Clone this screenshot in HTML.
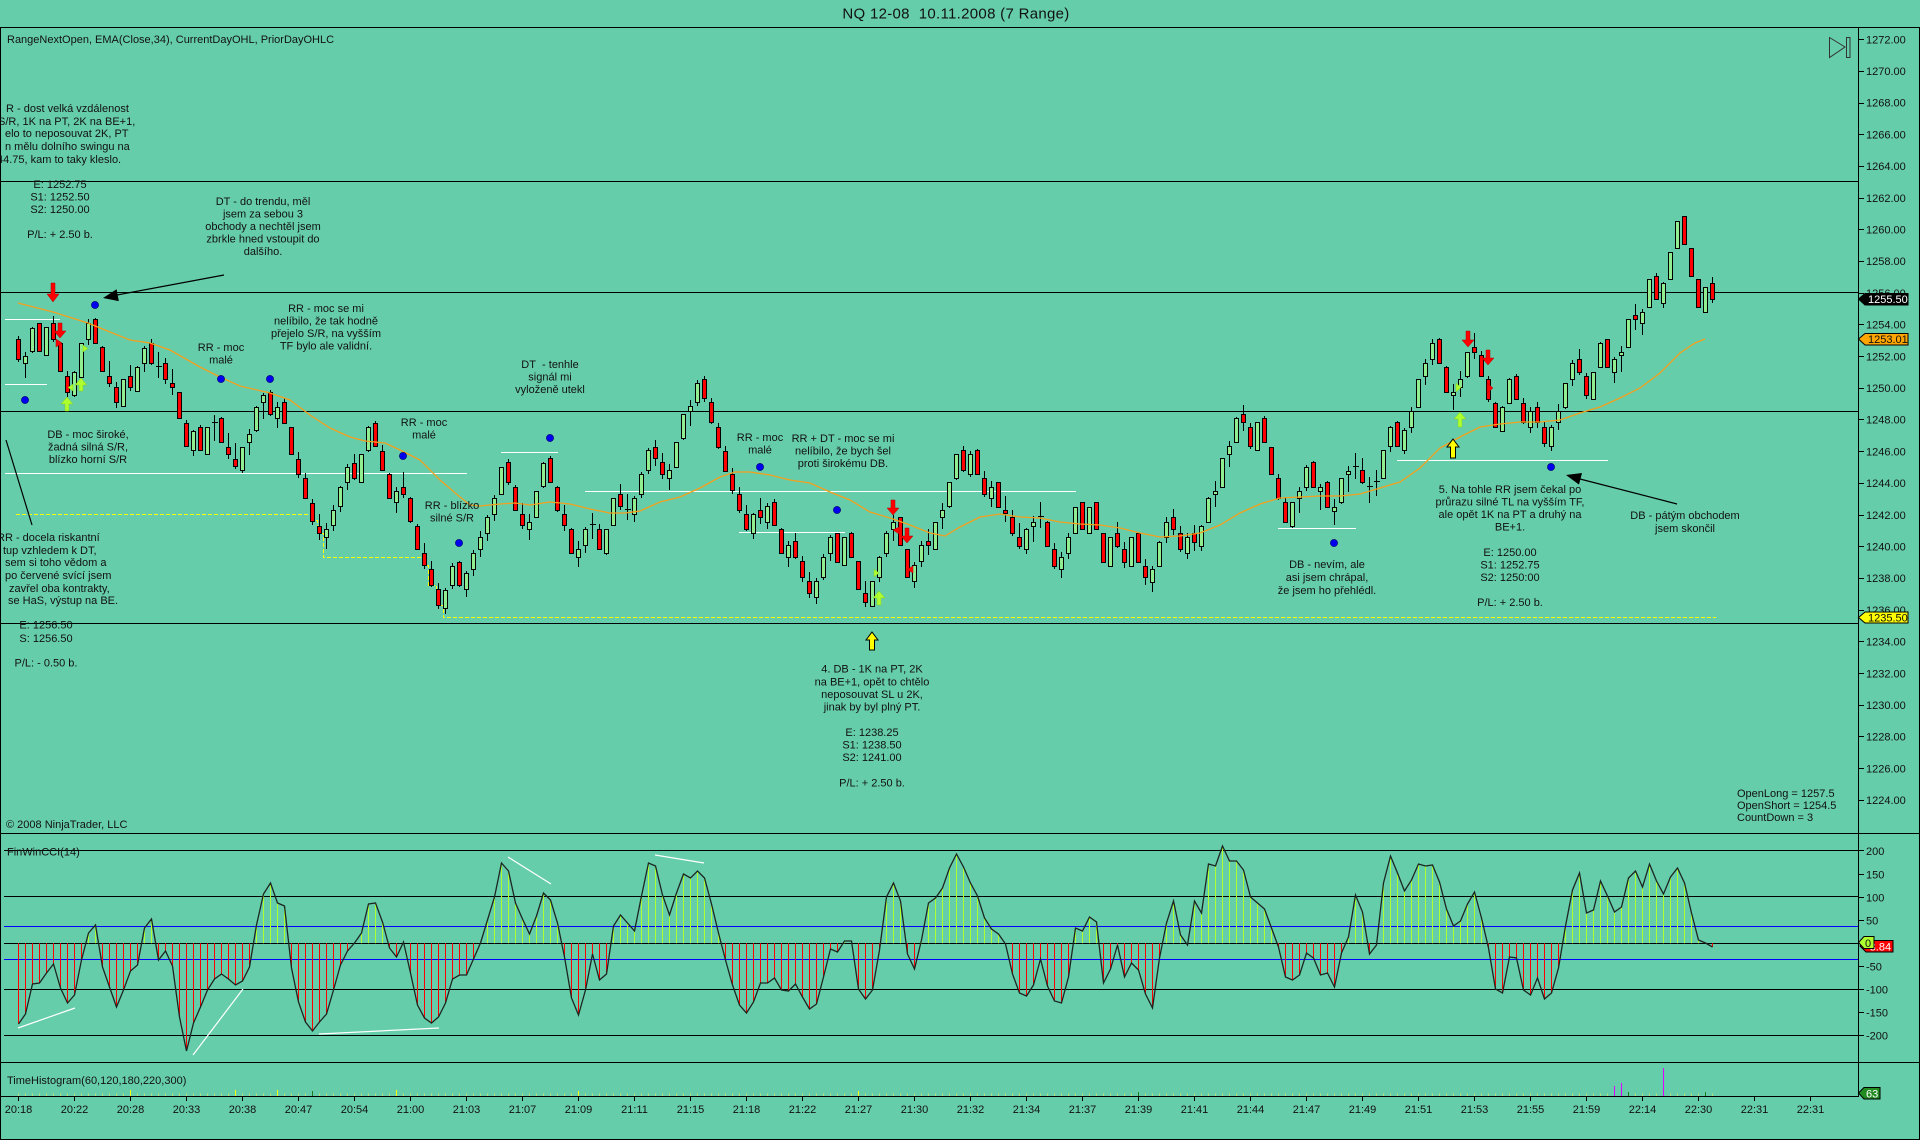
<!DOCTYPE html>
<html><head><meta charset="utf-8"><title>NQ 12-08 Range chart</title>
<style>
html,body{margin:0;padding:0;background:#66CDAA;width:1920px;height:1140px;overflow:hidden}
svg{display:block}
text{font-family:"Liberation Sans",Arial,sans-serif;font-size:11px;fill:#111}
</style></head>
<body>
<svg xmlns="http://www.w3.org/2000/svg" width="1920" height="1140" viewBox="0 0 1920 1140">
<rect x="0" y="0" width="1920" height="1140" fill="#66CDAA"/>

<!-- title -->
<text x="956" y="18.5" text-anchor="middle" style="font-size:15px;letter-spacing:0.3px">NQ 12-08&#160;&#160;10.11.2008 (7 Range)</text>

<!-- frame -->
<g stroke="#000" stroke-width="1" fill="none">
<path d="M0,27.5H1920 M0.5,27V1140 M1919.5,27V1140 M0,1139.5H1920 M1858.5,27V1097 M0,833.5H1920 M0,1062.5H1920 M0,1096.5H1858.5"/>
<!-- main horizontal lines -->
<path d="M0,181.5H1858 M0,292.5H1858 M0,411.5H1858 M0,623.5H1858"/>
<!-- price ticks -->
<path d="M1858,39.5h6 M1858,71.5h6 M1858,103.5h6 M1858,134.5h6 M1858,166.5h6 M1858,198.5h6 M1858,229.5h6 M1858,261.5h6 M1858,293.5h6 M1858,324.5h6 M1858,356.5h6 M1858,388.5h6 M1858,419.5h6 M1858,451.5h6 M1858,483.5h6 M1858,515.5h6 M1858,546.5h6 M1858,578.5h6 M1858,610.5h6 M1858,641.5h6 M1858,673.5h6 M1858,705.5h6 M1858,736.5h6 M1858,768.5h6 M1858,800.5h6"/>
<!-- CCI lines -->
<path d="M4,850.5H1858 M4,896.5H1858 M4,943.5H1858 M4,989.5H1858 M4,1035.5H1858"/>
<path d="M1858,850.5h6 M1858,874.5h6 M1858,897.5h6 M1858,920.5h6 M1858,966.5h6 M1858,989.5h6 M1858,1012.5h6 M1858,1035.5h6"/>
<!-- time ticks -->
<path d="M18.5,1097v4 M74.5,1097v4 M130.5,1097v4 M186.5,1097v4 M242.5,1097v4 M298.5,1097v4 M354.5,1097v4 M410.5,1097v4 M466.5,1097v4 M522.5,1097v4 M578.5,1097v4 M634.5,1097v4 M690.5,1097v4 M746.5,1097v4 M802.5,1097v4 M858.5,1097v4 M914.5,1097v4 M970.5,1097v4 M1026.5,1097v4 M1082.5,1097v4 M1138.5,1097v4 M1194.5,1097v4 M1250.5,1097v4 M1306.5,1097v4 M1362.5,1097v4 M1418.5,1097v4 M1474.5,1097v4 M1530.5,1097v4 M1586.5,1097v4 M1642.5,1097v4 M1698.5,1097v4 M1754.5,1097v4 M1810.5,1097v4"/>
</g>
<path d="M4,926.5H1858 M4,959.5H1858" stroke="#0000FF" stroke-width="1" fill="none"/>

<!-- yellow dashed current-day low -->
<path d="M16,514.5H310.5V520.5H317.5V533.5H323.5V557.5H422.5V565.5H428.5V585.5H436.5V605.5H443.5V617.5H1716" stroke="#FFFF00" stroke-width="1" stroke-dasharray="4,2" fill="none"/>

<!-- white S/R lines -->
<path d="M5,319.5H60 M5,384.5H47 M5,473.5H467 M501,452.5H558 M585,491.5H1076 M739,532.5H845 M1278,528.5H1356 M1397,460.5H1608" stroke="#FFFFFF" stroke-width="1" fill="none"/>

<!-- candles (generated) -->
<g id="candles" stroke="#000" stroke-width="1"></g>

<!-- EMA -->
<polyline id="ema" fill="none" stroke="#F2A01E" stroke-width="1.3" points="18,303 53,312 88,323 110,332 130,340 150,343 170,350 200,367 220,377 240,386 270,393 290,400 310,415 330,428 350,437 365,441 385,443 400,450 420,460 440,480 460,497 470,505 480,506 500,504 515,503 530,505 550,502 570,504 590,509 610,513 625,513 640,511 660,502 680,497 700,488 720,477 735,472 750,472 770,475 790,480 810,483 830,492 850,500 870,512 890,518 910,525 930,533 945,536 960,527 980,517 1000,514 1020,517 1040,518 1060,522 1080,524 1100,525 1120,528 1140,533 1160,537 1180,536 1200,533 1220,525 1240,513 1260,504 1280,498 1300,497 1320,496 1340,496 1360,494 1380,488 1400,482 1420,468 1440,448 1460,437 1480,427 1500,424 1520,422 1540,422 1560,420 1580,413 1600,407 1620,398 1640,388 1660,373 1680,353 1695,343 1705,339"/>

<!-- blue dots -->
<g fill="#0000EE" stroke="#000060" stroke-width="0.6">
<circle cx="95" cy="305" r="3.6"/><circle cx="25" cy="400" r="3.6"/><circle cx="221" cy="379" r="3.6"/><circle cx="270" cy="379" r="3.6"/><circle cx="403" cy="456" r="3.6"/><circle cx="459" cy="543" r="3.6"/><circle cx="550" cy="438" r="3.6"/><circle cx="760" cy="467" r="3.6"/><circle cx="837" cy="510" r="3.6"/><circle cx="1334" cy="543" r="3.6"/><circle cx="1551" cy="467" r="3.6"/>
</g>

<!-- red down arrows -->
<g fill="#FF0000" stroke="#B00000" stroke-width="0.5">
<path d="M51,283h4v11h4l-6,8l-6,-8h4z"/>
<path d="M58,323h4v8h4l-6,7l-6,-7h4z"/>
<path d="M891,500h4v8h4l-6,7l-6,-7h4z"/>
<path d="M905,528h4v8h4l-6,7l-6,-7h4z"/>
<path d="M1466,331h4v9h4l-6,7l-6,-7h4z"/>
<path d="M1486,350h4v8h4l-6,7l-6,-7h4z"/>
<polygon points="56,339 62,343 56,347"/>
<polygon points="899,527 893,530 899,534"/>
<polygon points="913,566 907,569.5 913,573"/>
<polygon points="1487,383 1493,388 1487,393"/>
</g>
<!-- green up arrows -->
<g fill="#ADFF2F" stroke="#7FCC20" stroke-width="0.5">
<path d="M67,397l6,7h-4v7h-4v-7h-4z"/>
<path d="M81,378l6,7h-4v6h-4v-6h-4z"/>
<path d="M879,591l6,7h-4v7h-4v-7h-4z"/>
<path d="M1460,412l6,7h-4v8h-4v-8h-4z"/>
<polygon points="73,384 68,387.5 73,391"/>
<polygon points="83,345 88,348.5 83,352"/>
<polygon points="874,569 879,573 874,577"/>
<polygon points="1456,383 1461,387.5 1456,392"/>
</g>
<!-- yellow up arrows -->
<g fill="#FFFF00" stroke="#000" stroke-width="1">
<path d="M1453,439l6,8h-3.5v11h-5v-11h-3.5z"/>
<path d="M872,632l6,8h-3.5v10h-5v-10h-3.5z"/>
</g>

<!-- black pointer lines -->
<g stroke="#000" stroke-width="1.2" fill="none">
<path d="M224,275L117,295"/>
<path d="M6,440L32,525"/>
<path d="M1677,504L1580,479"/>
</g>
<g fill="#000">
<polygon points="103,298 118.8,301.1 116.6,289.3"/>
<polygon points="1566,475 1579,484.6 1582,473"/>
</g>

<!-- top right icon -->
<g fill="none" stroke="#333" stroke-width="1">
<polygon points="1829.5,37.5 1845,47 1829.5,57.5"/>
<rect x="1846.5" y="37.5" width="3.5" height="20"/>
</g>

<!-- CCI (generated) -->
<g id="ccistems" stroke-width="1"></g>
<polyline id="cciline" fill="none" stroke="#1c2620" stroke-width="1.3" points=""/>
<!-- CCI divergence lines -->
<path d="M18,1028L75,1008 M193,1055L243,989 M319,1034L439,1028 M508,857L551,884 M655,855L704,863" stroke="#FFFFFF" stroke-width="1.2" fill="none"/>

<!-- time histogram (generated) -->
<g id="hist" stroke-width="1"></g>

<!-- price axis labels -->
<g>
<text x="1866" y="43.3">1272.00</text>
<text x="1866" y="75">1270.00</text>
<text x="1866" y="106.7">1268.00</text>
<text x="1866" y="138.4">1266.00</text>
<text x="1866" y="170.1">1264.00</text>
<text x="1866" y="201.8">1262.00</text>
<text x="1866" y="233.5">1260.00</text>
<text x="1866" y="265.2">1258.00</text>
<text x="1866" y="296.9">1256.00</text>
<text x="1866" y="328.6">1254.00</text>
<text x="1866" y="360.3">1252.00</text>
<text x="1866" y="392">1250.00</text>
<text x="1866" y="423.7">1248.00</text>
<text x="1866" y="455.4">1246.00</text>
<text x="1866" y="487.1">1244.00</text>
<text x="1866" y="518.8">1242.00</text>
<text x="1866" y="550.5">1240.00</text>
<text x="1866" y="582.2">1238.00</text>
<text x="1866" y="613.9">1236.00</text>
<text x="1866" y="645.6">1234.00</text>
<text x="1866" y="677.3">1232.00</text>
<text x="1866" y="709">1230.00</text>
<text x="1866" y="740.7">1228.00</text>
<text x="1866" y="772.4">1226.00</text>
<text x="1866" y="804.1">1224.00</text>
</g>
<!-- price tags -->
<polygon points="1858.5,299 1865,293.5 1908,293.5 1908,305 1865,305" fill="#000" stroke="#000"/>
<text x="1868" y="303.2" style="fill:#fff">1255.50</text>
<polygon points="1858.5,339 1865,333.5 1908,333.5 1908,345 1865,345" fill="#FFA500" stroke="#000"/>
<text x="1868" y="343.2">1253.01</text>
<polygon points="1858.5,617.5 1865,612 1908,612 1908,623 1865,623" fill="#FFFF00" stroke="#000"/>
<text x="1868" y="621.5">1235.50</text>

<!-- CCI axis labels -->
<g>
<text x="1866" y="855">200</text>
<text x="1866" y="878.5">150</text>
<text x="1866" y="901.5">100</text>
<text x="1866" y="924.5">50</text>
<text x="1866" y="970.5">-50</text>
<text x="1866" y="993.5">-100</text>
<text x="1866" y="1016.5">-150</text>
<text x="1866" y="1039.5">-200</text>
</g>
<polygon points="1860,946 1866,940.5 1893,940.5 1893,952 1866,952" fill="#FF0000" stroke="#000"/>
<text x="1866" y="950.3" style="fill:#fff">-3.84</text>
<polygon points="1858.5,942.5 1864,936.5 1874,936.5 1874,948.5 1864,948.5" fill="#ADFF2F" stroke="#000"/>
<text x="1865" y="946.8">0</text>
<polygon points="1858.5,1093 1864,1087.5 1880,1087.5 1880,1099 1864,1099" fill="#228B22" stroke="#000"/>
<text x="1866" y="1097.3" style="fill:#fff">63</text>

<!-- time labels -->
<g text-anchor="middle">
<text x="18.5" y="1113" text-anchor="middle">20:18</text>
<text x="74.5" y="1113" text-anchor="middle">20:22</text>
<text x="130.5" y="1113" text-anchor="middle">20:28</text>
<text x="186.5" y="1113" text-anchor="middle">20:33</text>
<text x="242.5" y="1113" text-anchor="middle">20:38</text>
<text x="298.5" y="1113" text-anchor="middle">20:47</text>
<text x="354.5" y="1113" text-anchor="middle">20:54</text>
<text x="410.5" y="1113" text-anchor="middle">21:00</text>
<text x="466.5" y="1113" text-anchor="middle">21:03</text>
<text x="522.5" y="1113" text-anchor="middle">21:07</text>
<text x="578.5" y="1113" text-anchor="middle">21:09</text>
<text x="634.5" y="1113" text-anchor="middle">21:11</text>
<text x="690.5" y="1113" text-anchor="middle">21:15</text>
<text x="746.5" y="1113" text-anchor="middle">21:18</text>
<text x="802.5" y="1113" text-anchor="middle">21:22</text>
<text x="858.5" y="1113" text-anchor="middle">21:27</text>
<text x="914.5" y="1113" text-anchor="middle">21:30</text>
<text x="970.5" y="1113" text-anchor="middle">21:32</text>
<text x="1026.5" y="1113" text-anchor="middle">21:34</text>
<text x="1082.5" y="1113" text-anchor="middle">21:37</text>
<text x="1138.5" y="1113" text-anchor="middle">21:39</text>
<text x="1194.5" y="1113" text-anchor="middle">21:41</text>
<text x="1250.5" y="1113" text-anchor="middle">21:44</text>
<text x="1306.5" y="1113" text-anchor="middle">21:47</text>
<text x="1362.5" y="1113" text-anchor="middle">21:49</text>
<text x="1418.5" y="1113" text-anchor="middle">21:51</text>
<text x="1474.5" y="1113" text-anchor="middle">21:53</text>
<text x="1530.5" y="1113" text-anchor="middle">21:55</text>
<text x="1586.5" y="1113" text-anchor="middle">21:59</text>
<text x="1642.5" y="1113" text-anchor="middle">22:14</text>
<text x="1698.5" y="1113" text-anchor="middle">22:30</text>
<text x="1754.5" y="1113" text-anchor="middle">22:31</text>
<text x="1810.5" y="1113" text-anchor="middle">22:31</text>
</g>

<!-- panel labels -->
<text x="7" y="43">RangeNextOpen, EMA(Close,34), CurrentDayOHL, PriorDayOHLC</text>
<text x="6" y="828">© 2008 NinjaTrader, LLC</text>
<text x="7" y="855.5">FinWinCCI(14)</text>
<text x="7" y="1084">TimeHistogram(60,120,180,220,300)</text>
<text x="1737" y="797">OpenLong = 1257.5</text>
<text x="1737" y="809">OpenShort = 1254.5</text>
<text x="1737" y="821">CountDown = 3</text>

<!-- annotations -->
<text x="6" y="112">R - dost velká vzdálenost</text>
<text x="-2" y="125">S/R, 1K na PT, 2K na BE+1,</text>
<text x="5" y="137">elo to neposouvat 2K, PT</text>
<text x="5" y="150">n mělu dolního swingu na</text>
<text x="-3" y="163">44.75, kam to taky kleslo.</text>

<text text-anchor="middle"><tspan x="60" y="188">E: 1252.75</tspan><tspan x="60" y="200.5">S1: 1252.50</tspan><tspan x="60" y="213">S2: 1250.00</tspan><tspan x="60" y="238">P/L: + 2.50 b.</tspan></text>

<text text-anchor="middle"><tspan x="263" y="205">DT - do trendu, měl</tspan><tspan x="263" y="217.5">jsem za sebou 3</tspan><tspan x="263" y="230">obchody a nechtěl jsem</tspan><tspan x="263" y="242.5">zbrkle hned vstoupit do</tspan><tspan x="263" y="255">dalšího.</tspan></text>

<text text-anchor="middle"><tspan x="326" y="312">RR - moc se mi</tspan><tspan x="326" y="324.5">nelíbilo, že tak hodně</tspan><tspan x="326" y="337">přejelo S/R, na vyšším</tspan><tspan x="326" y="349.5">TF bylo ale validní.</tspan></text>

<text text-anchor="middle"><tspan x="221" y="351">RR - moc</tspan><tspan x="221" y="363.5">malé</tspan></text>

<text text-anchor="middle"><tspan x="88" y="438">DB - moc široké,</tspan><tspan x="88" y="450.5">žadná silná S/R,</tspan><tspan x="88" y="463">blízko horní S/R</tspan></text>

<text text-anchor="middle"><tspan x="424" y="426">RR - moc</tspan><tspan x="424" y="438.5">malé</tspan></text>

<text text-anchor="middle"><tspan x="452" y="509">RR - blízko</tspan><tspan x="452" y="521.5">silné S/R</tspan></text>

<text x="-3" y="541">RR - docela riskantní</text>
<text x="3" y="554">tup vzhledem k DT,</text>
<text x="5" y="566">sem si toho vědom a</text>
<text x="5" y="579">po červené svící jsem</text>
<text x="9" y="592">zavřel oba kontrakty,</text>
<text x="8" y="604">se HaS, výstup na BE.</text>

<text text-anchor="middle"><tspan x="46" y="628.5">E: 1256.50</tspan><tspan x="46" y="642">S: 1256.50</tspan><tspan x="46" y="666.5">P/L: - 0.50 b.</tspan></text>

<text text-anchor="middle"><tspan x="550" y="368">DT&#160;&#160;- tenhle</tspan><tspan x="550" y="380.5">signál mi</tspan><tspan x="550" y="393">vyloženě utekl</tspan></text>

<text text-anchor="middle"><tspan x="760" y="441">RR - moc</tspan><tspan x="760" y="453.5">malé</tspan></text>

<text text-anchor="middle"><tspan x="843" y="442">RR + DT - moc se mi</tspan><tspan x="843" y="454.5">nelíbilo, že bych šel</tspan><tspan x="843" y="467">proti širokému DB.</tspan></text>

<text text-anchor="middle"><tspan x="872" y="672.6">4. DB - 1K na PT, 2K</tspan><tspan x="872" y="685.5">na BE+1, opět to chtělo</tspan><tspan x="872" y="698">neposouvat SL u 2K,</tspan><tspan x="872" y="710.5">jinak by byl plný PT.</tspan><tspan x="872" y="736">E: 1238.25</tspan><tspan x="872" y="748.5">S1: 1238.50</tspan><tspan x="872" y="761">S2: 1241.00</tspan><tspan x="872" y="786.5">P/L: + 2.50 b.</tspan></text>

<text text-anchor="middle"><tspan x="1327" y="568">DB - nevím, ale</tspan><tspan x="1327" y="581">asi jsem chrápal,</tspan><tspan x="1327" y="594">že jsem ho přehlédl.</tspan></text>

<text text-anchor="middle"><tspan x="1510" y="493">5. Na tohle RR jsem čekal po</tspan><tspan x="1510" y="505.5">průrazu silné TL na vyšším TF,</tspan><tspan x="1510" y="518">ale opět 1K na PT a druhý na</tspan><tspan x="1510" y="530.5">BE+1.</tspan><tspan x="1510" y="556">E: 1250.00</tspan><tspan x="1510" y="568.5">S1: 1252.75</tspan><tspan x="1510" y="581">S2: 1250:00</tspan><tspan x="1510" y="606">P/L: + 2.50 b.</tspan></text>

<text text-anchor="middle"><tspan x="1685" y="519">DB - pátým obchodem</tspan><tspan x="1685" y="532">jsem skončil</tspan></text>
</svg>

<script>
(function(){
var B=[[339,359,0],[356,363,1],[328,351,1],[323,351,0],[327,355,1],[323,339,0],[343,371,0],[376,392,0],[372,395,1],[343,377,1],
[323,339,1],[319,343,0],[347,371,0],[376,383,0],[387,402,0],[379,406,1],[376,387,0],[367,391,1],[348,363,1],[343,363,0],
[366,368,2],[363,379,0],[383,387,0],[392,418,0],[423,446,0],[431,450,1],[427,450,0],[427,454,1],[422,424,2],[418,442,0],
[447,454,0],[459,466,0],[447,470,1],[434,442,1],[407,430,1],[395,402,1],[392,414,0],[407,418,1],[402,423,0],[427,454,0],
[459,474,0],[478,498,0],[503,521,0],[526,533,0],[529,537,1],[510,525,1],[487,506,1],[467,482,1],[463,478,0],[454,482,1],
[427,450,1],[423,446,0],[451,470,0],[474,498,0],[491,502,1],[487,494,0],[498,521,0],[526,549,0],[553,565,0],[569,585,0],
[589,605,0],[590,608,1],[566,585,1],[562,585,0],[573,589,1],[553,569,1],[537,549,1],[517,533,1],[498,514,1],[467,494,1],
[462,482,0],[487,510,0],[514,525,0],[522,529,1],[491,517,1],[463,486,1],[458,482,0],[487,510,0],[514,525,0],[529,553,0],
[549,557,1],[529,545,1],[524,526,2],[529,549,0],[529,553,1],[498,525,1],[494,506,0],[509,511,2],[498,514,1],[474,494,1],
[450,470,1],[447,458,0],[462,474,0],[470,478,1],[442,467,1],[414,438,1],[406,411,1],[383,402,1],[379,398,0],[402,422,0],
[427,447,0],[451,471,0],[474,490,0],[494,510,0],[514,529,0],[514,533,1],[510,517,0],[506,522,1],[502,525,0],[529,553,0],
[545,557,1],[541,557,0],[561,577,0],[581,593,0],[581,597,1],[557,577,1],[537,553,1],[533,562,0],[537,565,1],[533,557,0],
[561,589,0],[593,602,0],[581,606,1],[557,577,1],[533,553,1],[522,529,1],[517,545,0],[549,577,0],[565,581,1],[545,561,1],
[541,545,0],[522,549,1],[510,517,1],[482,506,1],[454,478,1],[450,470,0],[454,474,1],[450,474,0],[478,494,0],[487,498,1],
[482,507,0],[510,513,0],[517,533,0],[537,546,0],[529,549,1],[522,526,1],[516,518,2],[522,546,0],[549,566,0],[557,569,1],
[537,553,1],[507,533,1],[502,529,0],[507,533,1],[502,529,0],[533,562,0],[537,566,1],[533,546,0],[549,562,0],[537,566,1],
[533,562,0],[566,577,0],[569,582,1],[542,566,1],[522,537,1],[517,529,0],[533,549,0],[537,553,1],[533,542,0],[526,546,1],
[498,522,1],[491,494,1],[458,487,1],[446,454,1],[418,442,1],[414,422,0],[427,446,0],[422,450,1],[418,442,0],[447,474,0],
[478,498,0],[502,522,0],[502,526,1],[491,498,1],[467,487,1],[462,487,0],[487,491,1],[482,507,0],[507,511,1],[478,502,1],
[471,474,1],[466,468,2],[470,482,0],[486,488,2],[481,483,2],[450,478,1],[427,446,1],[422,446,0],[430,450,1],[411,427,1],
[379,407,1],[363,376,1],[343,359,1],[339,363,0],[367,392,0],[392,395,1],[379,387,1],[352,376,1],[347,352,0],[355,376,0],
[379,399,0],[403,427,0],[407,431,1],[379,403,1],[376,399,0],[403,422,0],[411,427,1],[407,422,0],[427,443,0],[427,446,1],
[411,422,1],[383,407,1],[363,379,1],[359,372,0],[376,395,0],[372,399,1],[343,367,1],[339,367,0],[359,372,1],[352,355,1],
[319,347,1],[315,319,0],[312,323,1],[279,307,1],[276,299,0],[283,303,1],[252,279,1],[221,248,1],[216,244,0],[248,276,0],
[279,307,0],[287,312,1],[283,299,0]];
var s='';
for(var i=0;i<B.length;i++){
  var c=18+7*i+0.5, t=B[i][0], bt=B[i][1], d=B[i][2];
  var h=bt-t, ext=Math.max(0,26-h);
  var f=d==1?0.3:(d==0?0.7:0.5);
  f+=((i*37)%7)/7*0.4-0.2; if(f<0)f=0; if(f>1)f=1;
  var hi=Math.round(t-ext*f), lo=Math.round(bt+ext*(1-f));
  s+='<line x1="'+c+'" y1="'+hi+'" x2="'+c+'" y2="'+lo+'"/>';
  if(d==2){ s+='<line x1="'+(c-2.5)+'" y1="'+(t+0.5)+'" x2="'+(c+3.5)+'" y2="'+(t+0.5)+'"/>'; }
  else { s+='<rect x="'+(c-2)+'" y="'+(t+0.5)+'" width="4" height="'+Math.max(1,h)+'" fill="'+(d?'#90EE90':'#FF0000')+'"/>'; }
}
document.getElementById('candles').innerHTML=s;

var C=[1024,1014,984,983,973,964,988,1003,995,960,
933,925,967,987,1007,990,971,965,928,919,
960,951,966,1017,1051,1023,1007,990,979,974,
979,985,981,967,925,894,883,903,906,968,
1002,1022,1031,1022,1014,990,965,951,943,933,
904,903,922,948,957,942,973,1005,1018,1023,
1017,1003,979,975,975,959,943,920,897,863,
871,903,919,934,916,893,900,923,957,998,
1015,990,954,980,974,926,915,923,931,896,
863,866,895,915,893,874,878,871,878,904,
933,960,985,1005,1013,1002,983,983,978,990,
991,984,997,1009,1004,977,949,952,941,941,
989,999,990,950,897,883,901,954,969,940,
903,898,888,868,854,867,883,896,918,929,
934,944,974,993,996,985,959,986,1001,1003,
977,928,931,917,922,983,969,945,977,963,
970,994,1008,958,923,901,935,945,901,913,
864,866,846,861,861,870,897,903,909,928,
947,977,980,975,953,958,975,973,987,953,
937,895,912,954,945,883,856,873,891,880,
864,866,865,882,909,926,921,904,892,918,
948,989,993,957,958,990,995,978,999,993,
968,926,890,873,913,910,881,896,912,907,
878,871,887,864,881,894,877,868,883,913,
940,943,947];
var p='', st='';
for(var j=0;j<C.length;j++){
  var x=18+7*j+0.5, y=C[j];
  p+=x+','+y+' ';
  if(Math.abs(y-943.3)>1.2) st+='<line x1="'+x+'" y1="943.3" x2="'+x+'" y2="'+y+'" stroke="'+(y<943.3?'#ADFF2F':'#FF0000')+'"/>';
}
document.getElementById('ccistems').innerHTML=st;
document.getElementById('cciline').setAttribute('points',p);

var hs='';
var special={16:['#FFFF00',1090],31:['#FFFF00',1090],37:['#FFFF00',1090],54:['#FFFF00',1090],42:['#1E7B1E',1091],
 80:['#FFFF00',1091],120:['#FFFF00',1091],160:['#1E7B1E',1092],228:['#DD00FF',1086],229:['#DD00FF',1083],230:['#1E7B1E',1092],235:['#DD00FF',1068],241:['#1E7B1E',1092]};
for(var k=0;k<243;k++){
  var xx=18+7*k+0.5;
  if(special[k]) hs+='<line x1="'+xx+'" y1="'+special[k][1]+'" x2="'+xx+'" y2="1096" stroke="'+special[k][0]+'"/>';
  else hs+='<line x1="'+xx+'" y1="1093.5" x2="'+xx+'" y2="1096" stroke="#B5E37A"/>';
}
document.getElementById('hist').innerHTML=hs;
})();
</script>
</body></html>
